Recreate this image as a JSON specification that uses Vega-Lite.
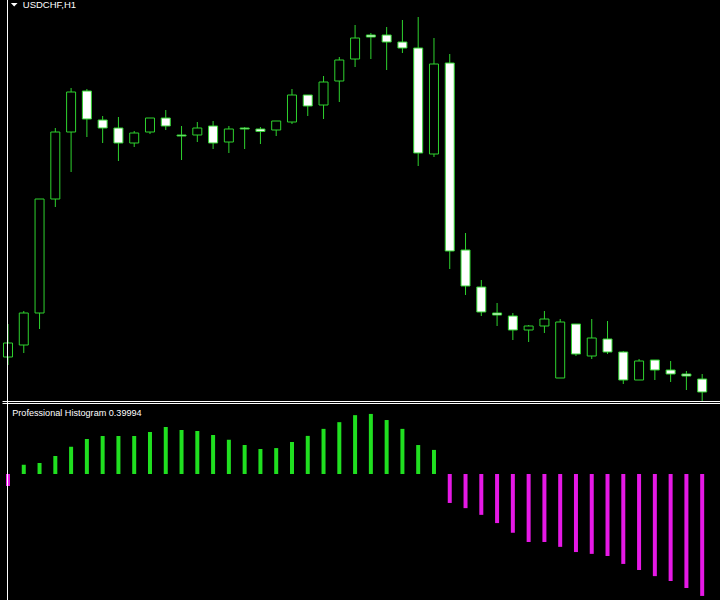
{
  "$schema": "https://vega.github.io/schema/vega-lite/v6.json",
  "background": "black",
  "autosize": {"type": "none"},
  "padding": {"left": 2.5, "top": 0, "right": 0, "bottom": 0},
  "width": 717.5,
  "height": 600,
  "config": {"view": {"stroke": null}, "axis": {"disable": true}},
  "resolve": {"scale": {"y": "independent"}},
  "datasets": {
    "candles": [
      {"k": -1, "open": 0.96715, "high": 0.96880, "low": 0.96675, "close": 0.96785},
      {"k": 0, "open": 0.96775, "high": 0.96945, "low": 0.96735, "close": 0.96935},
      {"k": 1, "open": 0.96935, "high": 0.97505, "low": 0.96855, "close": 0.97505},
      {"k": 2, "open": 0.97505, "high": 0.97860, "low": 0.97465, "close": 0.97840},
      {"k": 3, "open": 0.97840, "high": 0.98060, "low": 0.97640, "close": 0.98040},
      {"k": 4, "open": 0.98045, "high": 0.98055, "low": 0.97815, "close": 0.97905},
      {"k": 5, "open": 0.97900, "high": 0.97920, "low": 0.97785, "close": 0.97860},
      {"k": 6, "open": 0.97860, "high": 0.97915, "low": 0.97695, "close": 0.97785},
      {"k": 7, "open": 0.97785, "high": 0.97845, "low": 0.97765, "close": 0.97835},
      {"k": 8, "open": 0.97840, "high": 0.97910, "low": 0.97830, "close": 0.97910},
      {"k": 9, "open": 0.97910, "high": 0.97950, "low": 0.97850, "close": 0.97870},
      {"k": 10, "open": 0.97825, "high": 0.97870, "low": 0.97700, "close": 0.97820},
      {"k": 11, "open": 0.97825, "high": 0.97890, "low": 0.97790, "close": 0.97860},
      {"k": 12, "open": 0.97870, "high": 0.97895, "low": 0.97755, "close": 0.97785},
      {"k": 13, "open": 0.97790, "high": 0.97870, "low": 0.97735, "close": 0.97855},
      {"k": 14, "open": 0.97860, "high": 0.97865, "low": 0.97755, "close": 0.97855},
      {"k": 15, "open": 0.97855, "high": 0.97865, "low": 0.97780, "close": 0.97843},
      {"k": 16, "open": 0.97850, "high": 0.97895, "low": 0.97820, "close": 0.97895},
      {"k": 17, "open": 0.97890, "high": 0.98055, "low": 0.97880, "close": 0.98025},
      {"k": 18, "open": 0.98025, "high": 0.98025, "low": 0.97920, "close": 0.97970},
      {"k": 19, "open": 0.97975, "high": 0.98120, "low": 0.97905, "close": 0.98090},
      {"k": 20, "open": 0.98095, "high": 0.98215, "low": 0.97990, "close": 0.98200},
      {"k": 21, "open": 0.98205, "high": 0.98375, "low": 0.98165, "close": 0.98310},
      {"k": 22, "open": 0.98325, "high": 0.98335, "low": 0.98205, "close": 0.98315},
      {"k": 23, "open": 0.98325, "high": 0.98365, "low": 0.98150, "close": 0.98290},
      {"k": 24, "open": 0.98290, "high": 0.98400, "low": 0.98235, "close": 0.98260},
      {"k": 25, "open": 0.98260, "high": 0.98415, "low": 0.97670, "close": 0.97735},
      {"k": 26, "open": 0.97730, "high": 0.98310, "low": 0.97715, "close": 0.98180},
      {"k": 27, "open": 0.98185, "high": 0.98230, "low": 0.97155, "close": 0.97245},
      {"k": 28, "open": 0.97250, "high": 0.97335, "low": 0.97025, "close": 0.97070},
      {"k": 29, "open": 0.97065, "high": 0.97100, "low": 0.96920, "close": 0.96940},
      {"k": 30, "open": 0.96935, "high": 0.96985, "low": 0.96870, "close": 0.96925},
      {"k": 31, "open": 0.96920, "high": 0.96935, "low": 0.96800, "close": 0.96850},
      {"k": 32, "open": 0.96850, "high": 0.96875, "low": 0.96790, "close": 0.96870},
      {"k": 33, "open": 0.96870, "high": 0.96945, "low": 0.96835, "close": 0.96905},
      {"k": 34, "open": 0.96610, "high": 0.96905, "low": 0.96610, "close": 0.96890},
      {"k": 35, "open": 0.96880, "high": 0.96880, "low": 0.96720, "close": 0.96730},
      {"k": 36, "open": 0.96720, "high": 0.96905, "low": 0.96705, "close": 0.96810},
      {"k": 37, "open": 0.96805, "high": 0.96895, "low": 0.96730, "close": 0.96740},
      {"k": 38, "open": 0.96740, "high": 0.96745, "low": 0.96580, "close": 0.96600},
      {"k": 39, "open": 0.96600, "high": 0.96705, "low": 0.96600, "close": 0.96695},
      {"k": 40, "open": 0.96700, "high": 0.96700, "low": 0.96600, "close": 0.96650},
      {"k": 41, "open": 0.96650, "high": 0.96695, "low": 0.96590, "close": 0.96630},
      {"k": 42, "open": 0.96630, "high": 0.96645, "low": 0.96550, "close": 0.96620},
      {"k": 43, "open": 0.96605, "high": 0.96630, "low": 0.96490, "close": 0.96540}
    ],
    "hist": [
      {"k": -1, "v": -0.039}, {"k": 0, "v": 0.030}, {"k": 1, "v": 0.036}, {"k": 2, "v": 0.059},
      {"k": 3, "v": 0.089}, {"k": 4, "v": 0.115}, {"k": 5, "v": 0.125}, {"k": 6, "v": 0.125},
      {"k": 7, "v": 0.125}, {"k": 8, "v": 0.138}, {"k": 9, "v": 0.154}, {"k": 10, "v": 0.144},
      {"k": 11, "v": 0.141}, {"k": 12, "v": 0.128}, {"k": 13, "v": 0.112}, {"k": 14, "v": 0.095},
      {"k": 15, "v": 0.082}, {"k": 16, "v": 0.085}, {"k": 17, "v": 0.105}, {"k": 18, "v": 0.125},
      {"k": 19, "v": 0.148}, {"k": 20, "v": 0.170}, {"k": 21, "v": 0.193}, {"k": 22, "v": 0.197},
      {"k": 23, "v": 0.177}, {"k": 24, "v": 0.148}, {"k": 25, "v": 0.095}, {"k": 26, "v": 0.079},
      {"k": 27, "v": -0.095}, {"k": 28, "v": -0.112}, {"k": 29, "v": -0.134}, {"k": 30, "v": -0.161},
      {"k": 31, "v": -0.193}, {"k": 32, "v": -0.223}, {"k": 33, "v": -0.223}, {"k": 34, "v": -0.239},
      {"k": 35, "v": -0.256}, {"k": 36, "v": -0.262}, {"k": 37, "v": -0.269}, {"k": 38, "v": -0.295},
      {"k": 39, "v": -0.315}, {"k": 40, "v": -0.335}, {"k": 41, "v": -0.351}, {"k": 42, "v": -0.374},
      {"k": 43, "v": -0.39994}
    ]
  },
  "layer": [
    {
      "data": {"name": "candles"},
      "mark": {"type": "rule", "color": "#2ed22e", "strokeWidth": 1, "clip": true},
      "encoding": {
        "x": {"field": "k", "type": "quantitative", "scale": {"domain": [-1.03125, 43.8125], "nice": false, "zero": false}, "axis": null},
        "y": {"field": "low", "type": "quantitative", "scale": {"domain": [0.955, 0.985], "nice": false, "zero": false}, "axis": null},
        "y2": {"field": "high"}
      }
    },
    {
      "data": {"name": "candles"},
      "mark": {"type": "bar", "width": 9, "stroke": "#2ed22e", "strokeWidth": 1, "clip": true},
      "encoding": {
        "x": {"field": "k", "type": "quantitative", "scale": {"domain": [-1.03125, 43.8125], "nice": false, "zero": false}, "axis": null},
        "y": {"field": "open", "type": "quantitative", "scale": {"domain": [0.955, 0.985], "nice": false, "zero": false}, "axis": null},
        "y2": {"field": "close"},
        "fill": {"condition": {"test": "datum.close > datum.open", "value": "black"}, "value": "white"}
      }
    },
    {
      "data": {"name": "hist"},
      "mark": {"type": "bar", "width": 4, "clip": true},
      "encoding": {
        "x": {"field": "k", "type": "quantitative", "scale": {"domain": [-1.03125, 43.8125], "nice": false, "zero": false}, "axis": null},
        "y": {"field": "v", "type": "quantitative", "scale": {"domain": [-0.4133, 1.5547], "nice": false, "zero": false}, "axis": null},
        "y2": {"datum": 0},
        "fill": {"condition": {"test": "datum.v > 0", "value": "#20e020"}, "value": "#e619e6"}
      }
    },
    {
      "data": {"values": [{}]},
      "mark": {"type": "rule", "color": "white", "strokeWidth": 1},
      "encoding": {"x": {"datum": -1.03125, "type": "quantitative", "scale": {"domain": [-1.03125, 43.8125], "nice": false, "zero": false}}}
    },
    {
      "data": {"values": [{}]},
      "mark": {"type": "rule", "color": "white", "strokeWidth": 1},
      "encoding": {"y": {"datum": 0.964925, "type": "quantitative", "scale": {"domain": [0.955, 0.985], "nice": false, "zero": false}}}
    },
    {
      "data": {"values": [{}]},
      "mark": {"type": "rule", "color": "white", "strokeWidth": 1},
      "encoding": {"y": {"datum": 0.23124, "type": "quantitative", "scale": {"domain": [-0.4133, 1.5547], "nice": false, "zero": false}}}
    },
    {
      "data": {"values": [{}]},
      "mark": {"type": "point", "shape": "M-1,-0.5L1,-0.5L0,0.5Z", "size": 45, "filled": true, "color": "white", "opacity": 1},
      "encoding": {
        "x": {"datum": -0.606, "type": "quantitative", "scale": {"domain": [-1.03125, 43.8125], "nice": false, "zero": false}},
        "y": {"datum": 0.98476, "type": "quantitative", "scale": {"domain": [0.955, 0.985], "nice": false, "zero": false}}
      }
    },
    {
      "data": {"values": [{}]},
      "mark": {"type": "text", "text": "USDCHF,H1", "color": "white", "font": "Liberation Sans", "fontSize": 9.5, "align": "left", "baseline": "alphabetic"},
      "encoding": {
        "x": {"datum": -0.0625, "type": "quantitative", "scale": {"domain": [-1.03125, 43.8125], "nice": false, "zero": false}},
        "y": {"datum": 0.9846, "type": "quantitative", "scale": {"domain": [0.955, 0.985], "nice": false, "zero": false}}
      }
    },
    {
      "data": {"values": [{}]},
      "mark": {"type": "text", "text": "Professional Histogram 0.39994", "color": "white", "font": "Liberation Sans", "fontSize": 9.1, "align": "left", "baseline": "alphabetic"},
      "encoding": {
        "x": {"datum": -0.73, "type": "quantitative", "scale": {"domain": [-1.03125, 43.8125], "nice": false, "zero": false}},
        "y": {"datum": 0.190, "type": "quantitative", "scale": {"domain": [-0.4133, 1.5547], "nice": false, "zero": false}}
      }
    }
  ]
}
